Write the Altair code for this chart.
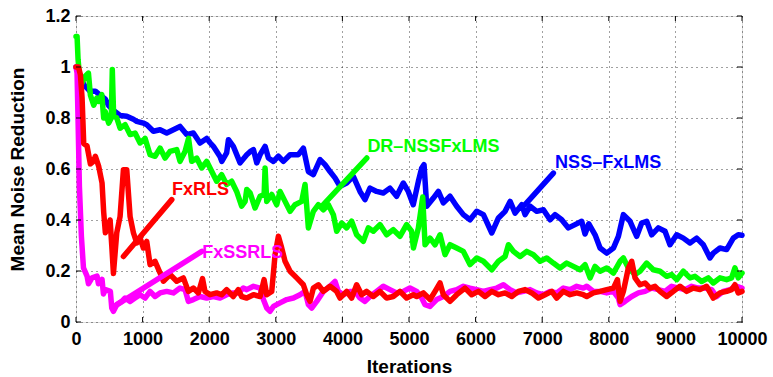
import altair as alt
import pandas as pd

# ---- data ----
blue_x = [0, 60, 120, 212, 291, 362, 441, 487, 562, 662, 762, 862, 912, 1012, 1062, 1162, 1262, 1362, 1462, 1562,
          1662, 1762, 1862, 1962, 2013, 2062, 2164, 2189, 2262, 2289, 2362, 2464, 2564, 2614, 2664, 2714, 2764, 2839,
          2889, 2964, 3039, 3114, 3214, 3339, 3414, 3489, 3564, 3664, 3739, 3814, 3889, 3964, 4064, 4164, 4264, 4339,
          4414, 4514, 4614, 4714, 4814, 4914, 4989, 5064, 5141, 5191, 5226, 5266, 5366, 5441, 5516, 5616, 5716, 5816,
          5916, 6017, 6117, 6243, 6343, 6443, 6518, 6593, 6693, 6743, 6818, 6918, 7018, 7118, 7193, 7293, 7393, 7493,
          7593, 7643, 7700, 7794, 7869, 7969, 8069, 8144, 8219, 8319, 8419, 8494, 8569, 8644, 8744, 8844, 8919, 9019,
          9119, 9219, 9319, 9419, 9519, 9569, 9669, 9769, 9869, 9944, 10000]
blue_y = [1.0, 0.96, 0.93, 0.905, 0.905, 0.89, 0.874, 0.85, 0.83, 0.81, 0.807, 0.795, 0.787, 0.78, 0.774, 0.748,
          0.754, 0.741, 0.754, 0.767, 0.735, 0.741, 0.702, 0.72, 0.703, 0.689, 0.648, 0.63, 0.663, 0.715, 0.689, 0.624,
          0.656, 0.668, 0.676, 0.624, 0.656, 0.689, 0.643, 0.63, 0.65, 0.63, 0.656, 0.656, 0.682, 0.59, 0.578, 0.637,
          0.617, 0.59, 0.565, 0.532, 0.545, 0.571, 0.512, 0.48, 0.525, 0.512, 0.506, 0.525, 0.493, 0.545, 0.512, 0.46,
          0.552, 0.604, 0.617, 0.454, 0.486, 0.512, 0.467, 0.493, 0.454, 0.421, 0.401, 0.434, 0.421, 0.349, 0.408,
          0.434, 0.473, 0.427, 0.46, 0.421, 0.454, 0.434, 0.44, 0.401, 0.421, 0.401, 0.369, 0.382, 0.395, 0.345, 0.385,
          0.342, 0.29, 0.27, 0.29, 0.336, 0.421, 0.395, 0.336, 0.388, 0.395, 0.342, 0.369, 0.356, 0.303, 0.342, 0.329,
          0.31, 0.329, 0.303, 0.251, 0.27, 0.29, 0.284, 0.329, 0.342, 0.34]

green_x = [0, 16, 31, 66, 141, 187, 216, 266, 312, 341, 387, 416, 437, 491, 530, 545, 565, 612, 662, 737, 812, 887,
           962, 1037, 1112, 1187, 1262, 1337, 1412, 1512, 1562, 1637, 1690, 1737, 1812, 1887, 1962, 2037, 2112, 2187,
           2262, 2337, 2412, 2487, 2539, 2564, 2614, 2689, 2764, 2825, 2839, 2864, 2939, 3014, 3064, 3139, 3214, 3289,
           3389, 3439, 3489, 3564, 3639, 3714, 3789, 3864, 3914, 3989, 4064, 4139, 4214, 4314, 4389, 4464, 4564, 4664,
           4764, 4864, 4964, 5039, 5066, 5141, 5206, 5241, 5316, 5391, 5466, 5541, 5616, 5716, 5816, 5916, 6017, 6117,
           6243, 6343, 6443, 6493, 6568, 6668, 6768, 6868, 6968, 7068, 7168, 7268, 7368, 7468, 7568, 7644, 7719, 7794,
           7869, 7969, 8069, 8169, 8219, 8294, 8394, 8469, 8569, 8669, 8769, 8869, 8944, 9019, 9119, 9219, 9294, 9394,
           9494, 9569, 9669, 9769, 9844, 9894, 9944, 10000]
green_y = [1.12, 1.12, 1.03, 0.925, 0.965, 0.976, 0.89, 0.85, 0.878, 0.865, 0.892, 0.8, 0.826, 0.78, 0.8, 0.99, 0.81,
           0.8, 0.76, 0.774, 0.735, 0.741, 0.702, 0.72, 0.656, 0.65, 0.682, 0.643, 0.669, 0.676, 0.63, 0.669, 0.72,
           0.63, 0.643, 0.604, 0.63, 0.591, 0.552, 0.578, 0.539, 0.552, 0.512, 0.454, 0.473, 0.52, 0.506, 0.447, 0.493,
           0.5, 0.604, 0.473, 0.5, 0.46, 0.512, 0.473, 0.434, 0.46, 0.473, 0.539, 0.369, 0.434, 0.46, 0.44, 0.46, 0.421,
           0.356, 0.388, 0.369, 0.395, 0.342, 0.316, 0.369, 0.356, 0.382, 0.342, 0.362, 0.336, 0.382, 0.356, 0.29,
           0.369, 0.49, 0.303, 0.329, 0.303, 0.342, 0.264, 0.303, 0.29, 0.277, 0.225, 0.251, 0.238, 0.205, 0.238,
           0.257, 0.303, 0.277, 0.257, 0.277, 0.264, 0.238, 0.251, 0.231, 0.212, 0.231, 0.218, 0.205, 0.225, 0.173,
           0.218, 0.199, 0.212, 0.192, 0.238, 0.251, 0.212, 0.186, 0.199, 0.231, 0.205, 0.199, 0.179, 0.186, 0.166,
           0.199, 0.173, 0.179, 0.159, 0.173, 0.153, 0.173, 0.166, 0.173, 0.212, 0.173, 0.192]

red_x = [0, 37, 66, 91, 116, 166, 216, 262, 291, 341, 391, 416, 441, 491, 512, 537, 562, 612, 662, 712, 762, 812,
         862, 912, 962, 1012, 1062, 1112, 1187, 1262, 1312, 1412, 1512, 1612, 1687, 1762, 1837, 1900, 1937, 2012,
         2112, 2187, 2262, 2362, 2437, 2487, 2564, 2664, 2764, 2824, 2864, 2939, 2989, 3039, 3089, 3139, 3214, 3314,
         3414, 3464, 3514, 3564, 3639, 3714, 3814, 3914, 3964, 4064, 4139, 4214, 4289, 4364, 4464, 4564, 4664, 4764,
         4864, 4964, 5064, 5116, 5216, 5316, 5391, 5466, 5516, 5616, 5716, 5841, 5941, 6042, 6142, 6243, 6343, 6443,
         6543, 6643, 6743, 6843, 6943, 7043, 7143, 7218, 7318, 7418, 7518, 7618, 7669, 7769, 7869, 7969, 8069, 8129,
         8169, 8219, 8294, 8344, 8394, 8469, 8544, 8619, 8694, 8769, 8869, 8969, 9069, 9169, 9269, 9369, 9469, 9569,
         9669, 9769, 9844, 9894, 9944, 10000]
red_y = [1.0, 1.0, 0.97, 0.88, 0.7, 0.69, 0.62, 0.63, 0.65, 0.61, 0.545, 0.43, 0.35, 0.38, 0.4, 0.3, 0.19, 0.35,
         0.414, 0.597, 0.597, 0.414, 0.35, 0.31, 0.33, 0.29, 0.316, 0.225, 0.238, 0.193, 0.16, 0.186, 0.16, 0.173,
         0.12, 0.133, 0.114, 0.17, 0.12, 0.107, 0.114, 0.107, 0.127, 0.1, 0.127, 0.1, 0.094, 0.107, 0.1, 0.166, 0.107,
         0.12, 0.264, 0.336, 0.29, 0.238, 0.199, 0.173, 0.146, 0.107, 0.081, 0.133, 0.146, 0.12, 0.14, 0.12, 0.094,
         0.12, 0.094, 0.146, 0.107, 0.12, 0.1, 0.12, 0.094, 0.1, 0.12, 0.094, 0.107, 0.1, 0.114, 0.088, 0.12, 0.153,
         0.107, 0.081, 0.107, 0.133, 0.107, 0.12, 0.1, 0.12, 0.107, 0.114, 0.1, 0.12, 0.127, 0.114, 0.094, 0.107, 0.12,
         0.094, 0.12, 0.107, 0.114, 0.107, 0.1, 0.114, 0.12, 0.127, 0.133, 0.166, 0.081, 0.12, 0.212, 0.238, 0.173,
         0.146, 0.153, 0.133, 0.14, 0.12, 0.1, 0.12, 0.14, 0.12, 0.133, 0.127, 0.14, 0.094, 0.114, 0.12, 0.127, 0.146,
         0.114, 0.12]

mag_x = [0, 16, 31, 51, 81, 112, 166, 187, 241, 316, 337, 391, 412, 441, 516, 537, 562, 612, 687, 737, 812, 887,
         962, 1037, 1112, 1187, 1262, 1362, 1462, 1562, 1637, 1687, 1762, 1862, 1962, 2062, 2162, 2262, 2362, 2437,
         2512, 2564, 2664, 2764, 2814, 2864, 2914, 2964, 3064, 3164, 3264, 3364, 3439, 3489, 3539, 3614, 3714, 3814,
         3889, 3939, 4014, 4114, 4189, 4264, 4339, 4414, 4514, 4614, 4714, 4814, 4914, 5014, 5116, 5191, 5241, 5316,
         5416, 5516, 5616, 5716, 5816, 5916, 6017, 6117, 6217, 6318, 6418, 6518, 6618, 6718, 6818, 6918, 7018, 7118,
         7218, 7318, 7418, 7518, 7618, 7669, 7769, 7869, 7969, 8069, 8144, 8169, 8244, 8344, 8444, 8544, 8644, 8744,
         8844, 8944, 9044, 9144, 9244, 9344, 9444, 9544, 9619, 9719, 9819, 9919, 10000]
mag_y = [1.0, 0.976, 0.793, 0.532, 0.336, 0.212, 0.18, 0.15, 0.173, 0.18, 0.15, 0.167, 0.11, 0.127, 0.12, 0.055,
         0.042, 0.068, 0.081, 0.094, 0.081, 0.094, 0.107, 0.094, 0.12, 0.1, 0.114, 0.12, 0.114, 0.133, 0.127, 0.081,
         0.088, 0.1, 0.094, 0.1, 0.094, 0.107, 0.114, 0.114, 0.133, 0.127, 0.14, 0.133, 0.088, 0.055, 0.042, 0.061,
         0.075, 0.088, 0.094, 0.107, 0.12, 0.068, 0.055, 0.081, 0.12, 0.14, 0.159, 0.12, 0.107, 0.12, 0.12, 0.094,
         0.081, 0.1, 0.12, 0.14, 0.127, 0.114, 0.12, 0.133, 0.12, 0.094, 0.068, 0.061, 0.088, 0.1, 0.12, 0.127, 0.14,
         0.133, 0.127, 0.12, 0.127, 0.133, 0.146, 0.127, 0.114, 0.12, 0.127, 0.114, 0.107, 0.12, 0.114, 0.133, 0.127,
         0.14, 0.133, 0.14, 0.12, 0.12, 0.114, 0.12, 0.094, 0.068, 0.081, 0.1, 0.114, 0.12, 0.133, 0.127, 0.12, 0.14,
         0.133, 0.127, 0.14, 0.133, 0.133, 0.127, 0.1, 0.12, 0.127, 0.14, 0.133]

x_ticks = [0, 1000, 2000, 3000, 4000, 5000, 6000, 7000, 8000, 9000, 10000]
y_ticks = [0, 0.2, 0.4, 0.6, 0.8, 1.0, 1.2]

ann_labels = ["NSS\u2013FxLMS", "DR\u2013NSSFxLMS", "FxSSRLS", "FxRLS"]
ann_colors = ["#0000ff", "#00ff00", "#ff00ff", "#ff0000"]
ann_text_x = [7194, 4375, 1894, 1443]
ann_text_y = [0.623, 0.685, 0.27, 0.519]
ann_from_x = [7168, 4366, 1889, 1438]
ann_from_y = [0.584, 0.643, 0.277, 0.48]
ann_to_x = [6743, 3690, 570, 712]
ann_to_y = [0.46, 0.453, 0.06, 0.257]

FONT = "Liberation Sans"
XS = alt.Scale(domain=[0, 10000], nice=False, zero=False)
YS = alt.Scale(domain=[0, 1.2], nice=False, zero=False)
LW = 5.5


def series(xs, ys, color):
    df = pd.DataFrame({"x": xs, "y": ys})
    return alt.Chart(df).mark_line(color=color, strokeWidth=LW, strokeJoin="round", strokeCap="round").encode(
        x=alt.X("x:Q", scale=XS), y=alt.Y("y:Q", scale=YS))


axis_common = dict(grid=True, ticks=False, domain=False,
                   labelFontSize=18, labelFontWeight="bold", labelFont=FONT, labelColor="black",
                   titleFontSize=19, titleFont=FONT, titleFontWeight="bold", titleColor="black",
                   gridColor="#000000", gridOpacity=0.75, gridDash=[1, 4], gridWidth=1, labelFlush=False)

base_axes = alt.Chart(pd.DataFrame({"x": [0], "y": [0]})).mark_point(opacity=0).encode(
    x=alt.X("x:Q", scale=XS, title="Iterations",
            axis=alt.Axis(values=x_ticks, format="d", labelPadding=8, titlePadding=9, **axis_common)),
    y=alt.Y("y:Q", scale=YS, title="Mean Noise Reduction",
            axis=alt.Axis(values=y_ticks, format="~g", labelPadding=6, titlePadding=17, **axis_common)),
)

xt = pd.DataFrame({"x": x_ticks})
yt = pd.DataFrame({"y": y_ticks})
tick_layers = [
    alt.Chart(xt).mark_rule(color="black", strokeWidth=1).encode(
        x=alt.X("x:Q", scale=XS), y=alt.value(306), y2=alt.value(301)),
    alt.Chart(xt).mark_rule(color="black", strokeWidth=1).encode(
        x=alt.X("x:Q", scale=XS), y=alt.value(0), y2=alt.value(5)),
    alt.Chart(yt).mark_rule(color="black", strokeWidth=1).encode(
        y=alt.Y("y:Q", scale=YS), x=alt.value(0), x2=alt.value(5)),
    alt.Chart(yt).mark_rule(color="black", strokeWidth=1).encode(
        y=alt.Y("y:Q", scale=YS), x=alt.value(666), x2=alt.value(661)),
]

ann = pd.DataFrame({"label": ann_labels, "color": ann_colors, "tx": ann_text_x, "ty": ann_text_y,
                    "fx": ann_from_x, "fy": ann_from_y, "ex": ann_to_x, "ey": ann_to_y})
arrows = alt.Chart(ann).mark_rule(strokeWidth=LW, strokeCap="round").encode(
    x=alt.X("fx:Q", scale=XS), y=alt.Y("fy:Q", scale=YS), x2="ex:Q", y2="ey:Q",
    color=alt.Color("color:N", scale=None))
texts = alt.Chart(ann).mark_text(align="left", baseline="middle", fontSize=18, fontWeight="bold", font=FONT).encode(
    x=alt.X("tx:Q", scale=XS), y=alt.Y("ty:Q", scale=YS), text="label:N",
    color=alt.Color("color:N", scale=None))

chart = alt.layer(
    base_axes,
    series(blue_x, blue_y, "#0000ff"),
    series(green_x, green_y, "#00ff00"),
    series(mag_x, mag_y, "#ff00ff"),
    series(red_x, red_y, "#ff0000"),
    arrows,
    texts,
    *tick_layers,
).properties(
    width=666, height=306,
    padding={"left": 76, "top": 16, "right": 31, "bottom": 55},
    autosize=alt.AutoSizeParams(type="none"),
).configure_view(stroke="black", strokeWidth=1.2).configure(background="white")

chart.save("out.html", embed_options={"renderer": "svg", "actions": False})
